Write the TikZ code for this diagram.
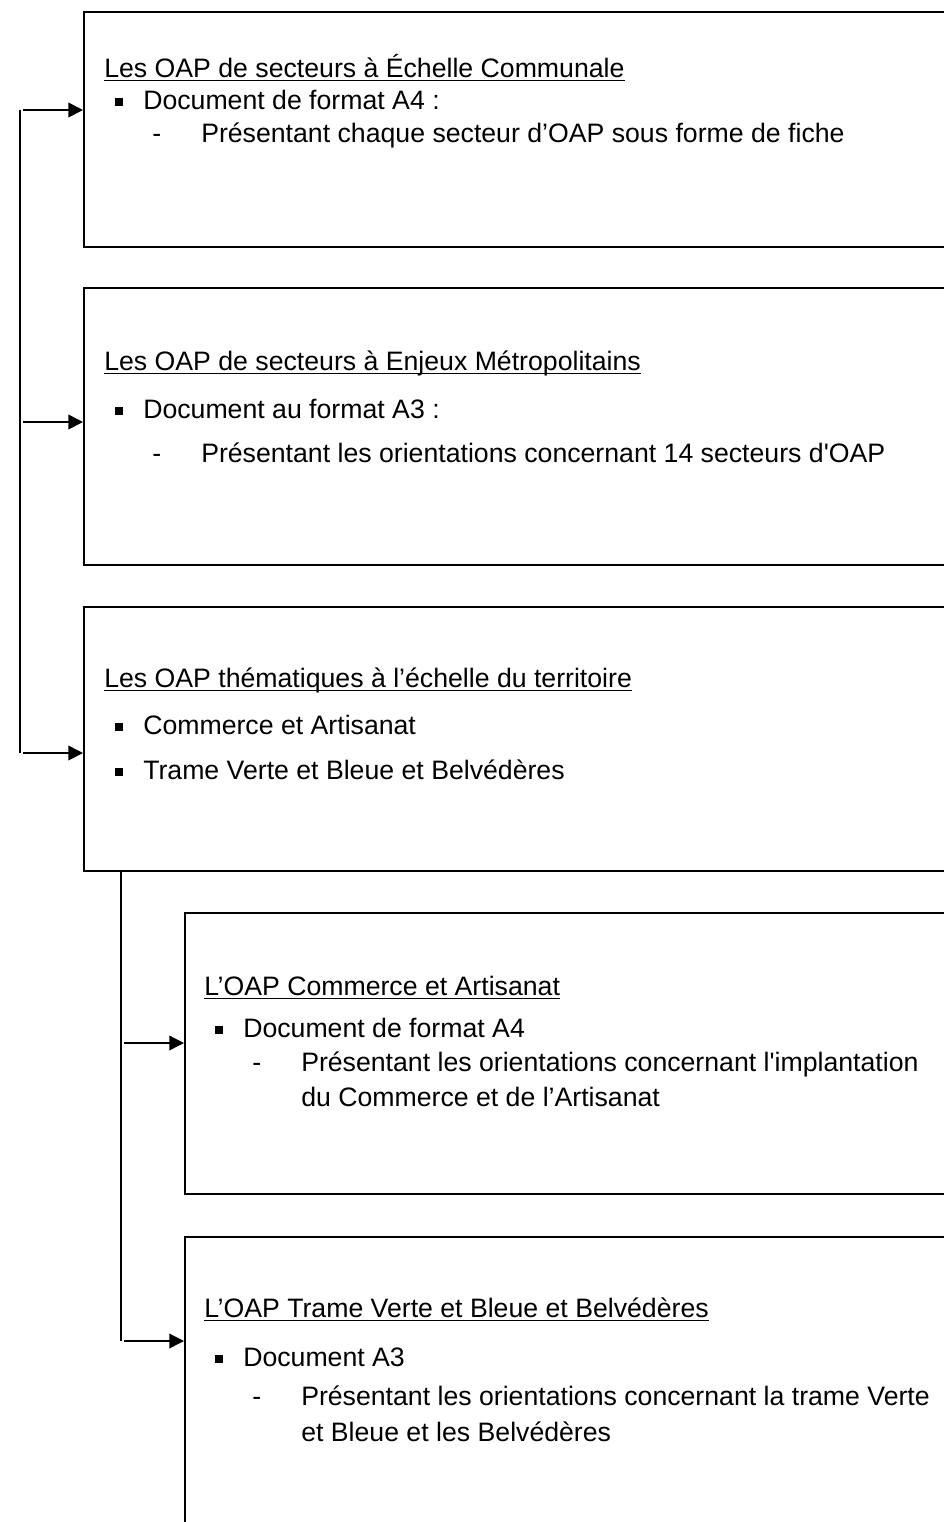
\documentclass[tikz,border=0pt]{standalone}
\usepackage{fontspec}
\setmainfont{Liberation Sans}
\usetikzlibrary{positioning}
\usetikzlibrary{arrows.meta}

\newcommand\ulin[1]{\setbox0\hbox{#1}\rlap{\rule[-3.2pt]{\wd0}{1.1pt}}\box0}
\newcommand\sqbul{\makebox[21pt][l]{\rule[2.5pt]{5.6pt}{5.6pt}}}
\newcommand\dashbul{\makebox[36.75pt][l]{-}}

\begin{document}
\begin{tikzpicture}[
    x=0.75pt, y=-0.75pt,
    box/.style = {draw, line width=1.2pt, rectangle, inner sep=0pt, anchor=north west, minimum width=658pt},
    subbox/.style = {box, minimum width=582pt},
    txt/.style = {anchor=base west, inner sep=0pt, font=\fontsize{20}{27}\selectfont},
    spine/.style = {line width=1.2pt},
    arr/.style = {line width=1.2pt, -{Triangle[length=11pt,width=11pt]}},
    ]
    \useasboundingbox (0,0) rectangle (944,1522);
    \clip (0,0) rectangle (944,1522);

    % the three OAP boxes
    \node[box, minimum height=176.25pt] (sect) at (83,11) {};
    \node[box, minimum height=207.75pt] (metro) at (83,287) {};
    \node[box, minimum height=198pt] (them) at (83,606) {};
    % the two thematic boxes
    \node[subbox, minimum height=210.75pt] (comm) at (184,912) {};
    \node[subbox, minimum height=240pt] (tvb) at (184,1236) {};

    \node[txt] (sectT) at (104,77) {\ulin{Les OAP de secteurs à Échelle Communale}};
    \node[txt] (sectA) at (115,109) {\sqbul Document de format A4 :};
    \node[txt] (sectB) at (152,142) {\dashbul Présentant chaque secteur d’OAP sous forme de fiche};

    \node[txt] (metroT) at (104,370) {\ulin{Les OAP de secteurs à Enjeux Métropolitains}};
    \node[txt] (metroA) at (115,418) {\sqbul Document au format A3 :};
    \node[txt] (metroB) at (152,462) {\dashbul Présentant les orientations concernant 14 secteurs d\textquotesingle OAP};

    \node[txt] (themT) at (104,687) {\ulin{Les OAP thématiques à l’échelle du territoire}};
    \node[txt] (themA) at (115,734) {\sqbul Commerce et Artisanat};
    \node[txt] (themB) at (115,779) {\sqbul Trame Verte et Bleue et Belvédères};

    \node[txt] (commT) at (204,995) {\ulin{L’OAP Commerce et Artisanat}};
    \node[txt] (commA) at (215,1037) {\sqbul Document de format A4};
    \node[txt] (commB) at (252,1071) {\dashbul Présentant les orientations concernant l\textquotesingle implantation};
    \node[txt] (commC) at (301,1106) {du Commerce et de l’Artisanat};

    \node[txt] (tvbT) at (204,1317) {\ulin{L’OAP Trame Verte et Bleue et Belvédères}};
    \node[txt] (tvbA) at (215,1366) {\sqbul Document A3};
    \node[txt] (tvbB) at (252,1405) {\dashbul Présentant les orientations concernant la trame Verte};
    \node[txt] (tvbC) at (301,1441) {et Bleue et les Belvédères};

    % left spine
    \coordinate (s1) at (20,110);
    \coordinate (s2) at (20,422);
    \coordinate (s3) at (20,753);
    \draw[spine] (s1) -- (s3);
    \draw[arr] ([xshift=2.5pt]s1) -- (s1 -| sect.west);
    \draw[arr] ([xshift=2.5pt]s2) -- (s2 -| metro.west);
    \draw[arr] ([xshift=2.5pt]s3) -- (s3 -| them.west);

    % spine under the thematic box
    \coordinate (t0) at (them.south -| 121,0);
    \coordinate (t1) at (121,1043);
    \coordinate (t2) at (121,1341);
    \draw[spine, line width=0.9pt] (t0) -- (t2);
    \draw[arr, line width=1pt] ([xshift=2.5pt]t1) -- (t1 -| comm.west);
    \draw[arr, line width=1pt] ([xshift=2.5pt]t2) -- (t2 -| tvb.west);
  \end{tikzpicture}
\end{document}
